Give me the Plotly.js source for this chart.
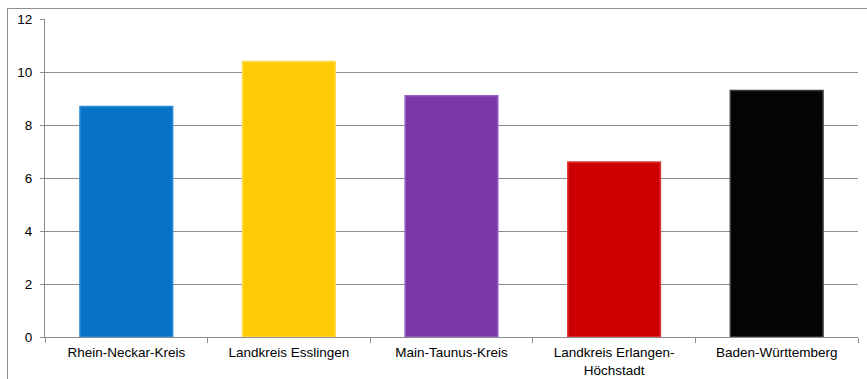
<!DOCTYPE html>
<html>
<head>
<meta charset="utf-8">
<script src="https://cdn.plot.ly/plotly-3.0.1.min.js"></script>
<style>
  html, body { margin: 0; padding: 0; background: #fff; }
  #frame { position: absolute; left: 7px; top: 8px; width: 870px; height: 380px;
           border-left: 1px solid #8c8c8c; border-top: 1px solid #8c8c8c; }
  #chart { position: absolute; left: 0; top: 0; width: 867px; height: 379px; }
</style>
</head>
<body>
<div id="frame"></div>
<div id="chart"></div>
<script>
// Regions and their values
const regions = [
  "Rhein-Neckar-Kreis",
  "Landkreis Esslingen",
  "Main-Taunus-Kreis",
  "Landkreis Erlangen-<br>Höchstadt",
  "Baden-Württemberg"
];
const values = [8.7, 10.4, 9.1, 6.6, 9.3];
const barColors = ["#0673c6", "#ffcb05", "#7b37a8", "#cc0000", "#050505"];
const edgeColors = ["#2f8ad6", "#ffdc4a", "#9a5cc4", "#e03a3a", "#3a3a3a"];
const yTicks = [0, 2, 4, 6, 8, 10, 12];

const trace = {
  type: "bar",
  x: regions,
  y: values,
  marker: { color: barColors, line: { color: edgeColors, width: 1.5 } },
  hoverinfo: "x+y"
};

const layout = {
  width: 867,
  height: 379,
  margin: { l: 45, r: 9, t: 19, b: 42 },
  paper_bgcolor: "rgba(0,0,0,0)",
  plot_bgcolor: "rgba(0,0,0,0)",
  bargap: 0.43,
  showlegend: false,
  font: { family: "Liberation Sans, Arial, sans-serif", size: 13, color: "#000" },
  xaxis: {
    type: "category",
    showgrid: false,
    showline: true,
    linecolor: "#8c8c8c",
    linewidth: 1,
    ticks: "outside",
    ticklen: 5,
    tickcolor: "#8c8c8c",
    tickson: "boundaries",
    ticklabelstandoff: 3,
    tickfont: { size: 13.5 },
    fixedrange: true
  },
  yaxis: {
    range: [0, 12],
    tickvals: yTicks,
    ticktext: yTicks.map(String),
    showgrid: true,
    gridcolor: "#8c8c8c",
    gridwidth: 1,
    showline: true,
    linecolor: "#8c8c8c",
    ticks: "outside",
    ticklen: 4,
    tickcolor: "#8c8c8c",
    zeroline: false,
    ticklabelstandoff: 5,
    tickfont: { size: 13.5 },
    fixedrange: true
  }
};

Plotly.newPlot("chart", [trace], layout, { displayModeBar: false, staticPlot: true });
</script>
</body>
</html>
